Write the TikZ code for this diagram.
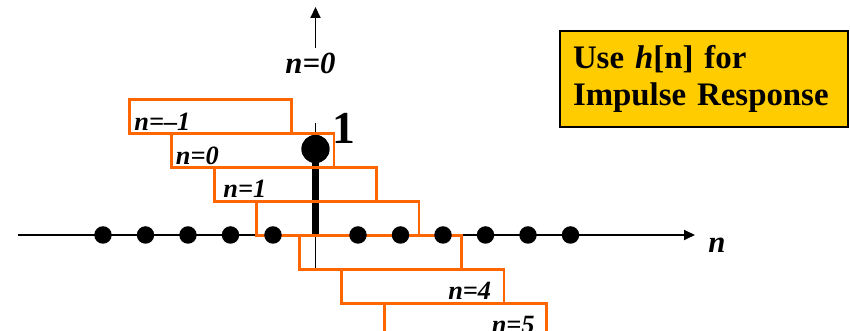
\documentclass[tikz,border=0pt]{standalone}
\usepackage{fontspec}
\setmainfont{Liberation Serif}
\usetikzlibrary{arrows.meta, positioning}
\definecolor{winorange}{RGB}{255,102,0}
\definecolor{noteyellow}{RGB}{255,204,0}

\begin{document}
\begin{tikzpicture}[
  slide/.style={draw=winorange, line width=1.7pt, minimum width=3.24cm, minimum height=0.68cm, inner sep=0pt, anchor=north west},
  sample/.style={circle, fill=black, minimum size=0.35cm, inner sep=0pt},
  nlab/.style={font=\fontsize{15}{18}\selectfont\bfseries\itshape, inner sep=0pt},
  axlab/.style={font=\fontsize{17.5}{21}\selectfont\bfseries\itshape, inner sep=0pt},
  axis/.style={line width=1.1pt, -{Triangle[length=0.22cm, width=0.2cm]}}
]
  \useasboundingbox (-6.31,-1.92) rectangle (10.69,4.70);

  % axes
  \coordinate (origin) at (0,0);
  \coordinate (xstart) at (-5.95,0);
  \coordinate (xend) at (7.59,0);
  \coordinate (axbottom) at (0,-0.66);
  \draw[axis] (xstart) -- (xend);
  \draw[line width=1.1pt] (origin) -- (axbottom);
  \node[axlab, anchor=base west] (nlabel) at (7.85,-0.36) {n};

  % impulse at n=0
  \node[circle, fill=black, minimum size=0.56cm, inner sep=0pt] (stemdot) at (0,1.72) {};
  \coordinate (stemtick) at (0,2.24);
  \draw[line width=4.5pt] (origin) -- (stemdot.center);
  \draw[line width=1.1pt] (stemdot.north) -- (stemtick);

  % shifted windows
  \node[slide] (slidem1) at (-3.75,2.74) {};
  \node[slide] (slide0) at (-2.9,2.06) {};
  \node[slide] (slide1) at (-2.05,1.38) {};
  \node[slide] (slide2) at (-1.2,0.70) {};
  \node[slide] (slide3) at (-0.35,0.02) {};
  \node[slide] (slide4) at (0.5,-0.66) {};
  \node[slide] (slide5) at (1.35,-1.34) {};

  \node[nlab, anchor=base west] (labm1) at ([xshift=0.12cm, yshift=0.08cm]slidem1.south west) {n=–1};
  \node[nlab, anchor=base west] (lab0) at ([xshift=0.1cm, yshift=0.08cm]slide0.south west) {n=0};
  \node[nlab, anchor=base west] (lab1) at ([xshift=0.2cm, yshift=0.1cm]slide1.south west) {n=1};
  \node[nlab, anchor=base east] (lab4) at ([xshift=-0.28cm, yshift=0.1cm]slide4.south east) {n=4};
  \node[nlab, anchor=base east] (lab5) at ([xshift=-0.26cm, yshift=0.1cm]slide5.south east) {n=5};

  % zero samples
  \node[sample] (sm5) at (-4.25,0) {};
  \node[sample] (sm4) at (-3.4,0) {};
  \node[sample] (sm3) at (-2.55,0) {};
  \node[sample] (sm2) at (-1.7,0) {};
  \node[sample] (sm1) at (-0.85,0) {};
  \node[sample] (s1) at (0.85,0) {};
  \node[sample] (s2) at (1.7,0) {};
  \node[sample] (s3) at (2.55,0) {};
  \node[sample] (s4) at (3.4,0) {};
  \node[sample] (s5) at (4.25,0) {};
  \node[sample] (s6) at (5.1,0) {};

  \node[circle, fill=black, minimum size=0.56cm, inner sep=0pt] at (stemdot) {};
  \node[font=\fontsize{26}{30}\selectfont\bfseries, inner sep=0pt, anchor=base west] (onelab) at (0.33,1.82) {1};

  % n=0 marker
  \coordinate (ytip) at (0,4.56);
  \node[axlab, inner sep=0.1cm, anchor=base] (n0lab) at (-0.1,3.22) {n=0};
  \draw[axis] (n0lab.north -| ytip) -- (ytip);

  % note
  \node[draw=black, line width=1.1pt, fill=noteyellow, minimum width=5.76cm, minimum height=1.92cm, text width=5.24cm, align=left, inner sep=0pt, font=\fontsize{18.7}{21.5}\selectfont\bfseries] (note) at (7.77,3.12) {Use \textit{h}[n] for\\Impulse Response};
\end{tikzpicture}
\end{document}
